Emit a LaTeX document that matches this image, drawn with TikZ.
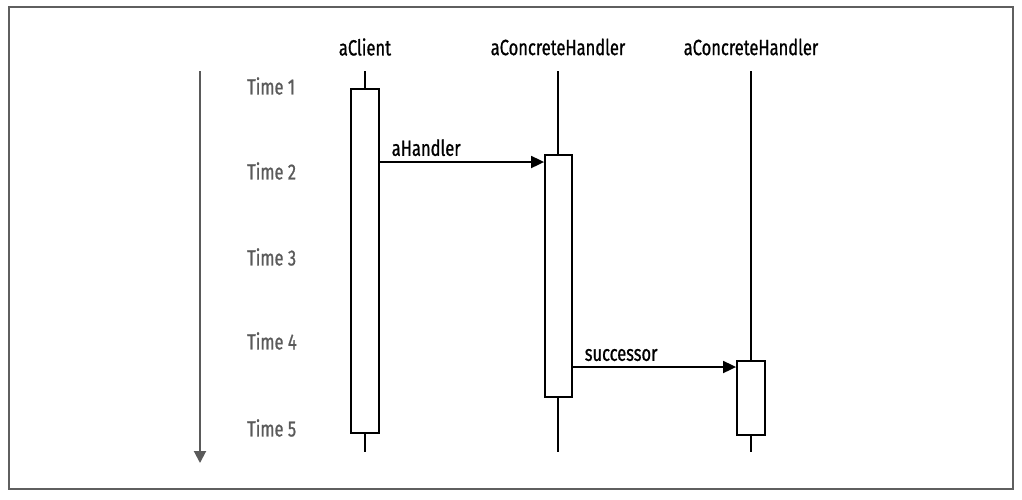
\documentclass[tikz,border=0pt]{standalone}
\usepackage{fontspec}
\setmainfont{Fira Sans}[FakeStretch=0.75,FakeBold=0.8]
\usetikzlibrary{arrows.meta}
\definecolor{framegray}{RGB}{95,95,95}
\definecolor{timegray}{RGB}{90,90,90}
\begin{document}
\begin{tikzpicture}[x=1pt,y=-1pt,
  lbl/.style={font=\fontsize{22}{26}\selectfont, inner sep=0pt},
  tlbl/.style={font=\fontsize{22}{26}\selectfont, inner sep=0pt, text=timegray, anchor=west},
  life/.style={line width=1.8pt, black},
  actbox/.style={draw=black, line width=1.8pt, fill=white},
  msg/.style={line width=1.8pt, -{Triangle[length=13pt,width=12pt]}}]
\useasboundingbox (0,0) rectangle (1022,499);
\draw[framegray, line width=1.5pt] (9,7) rectangle (1013,489);
% time axis
\coordinate (ta) at (200,71);
\coordinate (tb) at (200,463);
\draw[timegray, line width=2pt, -{Triangle[length=12pt,width=12pt]}] (ta) -- (tb);
\node[tlbl] (t1) at (247,86) {Time 1};
\node[tlbl] (t2) at (247,171) {Time 2};
\node[tlbl] (t3) at (247,257) {Time 3};
\node[tlbl] (t4) at (247,341) {Time 4};
\node[tlbl] (t5) at (247,428) {Time 5};
% headers
\node[lbl] (h1) at (365,47) {aClient};
\node[lbl] (h2) at (558,47) {aConcreteHandler};
\node[lbl] (h3) at (751,47) {aConcreteHandler};
% lifelines
\coordinate (l1t) at (365,71); \coordinate (l1b) at (365,452);
\coordinate (l2t) at (558,71); \coordinate (l2b) at (558,452);
\coordinate (l3t) at (751,71); \coordinate (l3b) at (751,452);
\draw[life] (l1t) -- (l1b);
\draw[life] (l2t) -- (l2b);
\draw[life] (l3t) -- (l3b);
% activation boxes
\node[actbox, minimum width=28pt, minimum height=344pt, inner sep=0pt] (a1) at (365,261) {};
\node[actbox, minimum width=27pt, minimum height=242pt, inner sep=0pt] (a2) at (558.5,276) {};
\node[actbox, minimum width=28pt, minimum height=74pt, inner sep=0pt] (a3) at (751,398) {};
% messages
\draw[msg] (a1.east |- 0,162) -- (a2.west |- 0,162) node[pos=0, anchor=south west, lbl, xshift=11pt, yshift=5pt] (m1) {aHandler};
\draw[msg] (a2.east |- 0,367) -- (a3.west |- 0,367) node[pos=0, anchor=south west, lbl, xshift=11pt, yshift=5pt] (m2) {successor};
\end{tikzpicture}
\end{document}
